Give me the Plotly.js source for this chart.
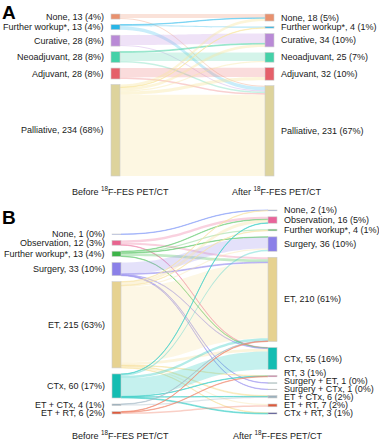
<!DOCTYPE html>
<html><head><meta charset="utf-8">
<script src="https://cdn.plot.ly/plotly-3.0.1.min.js"></script>
<style>html,body{margin:0;padding:0;background:#fff}#chart{width:379px;height:440px}</style>
</head><body><div id="chart"></div>
<script>
// ---------- Panel A data ----------
const aLeftLabels  = ["None", "Further workup*", "Curative", "Neoadjuvant", "Adjuvant", "Palliative"];
const aLeftValues  = [13, 13, 28, 28, 28, 234];
const aLeftPct     = ["4%", "4%", "8%", "8%", "8%", "68%"];
const aRightLabels = ["None", "Further workup*", "Curative", "Neoadjuvant", "Adjuvant", "Palliative"];
const aRightValues = [18, 4, 34, 25, 32, 231];
const aRightPct    = ["5%", "1%", "10%", "7%", "10%", "67%"];
const aColors      = ["#e8916e", "#29b5e6", "#b98ad6", "#45d1a8", "#e5606a", "#ddd39c"];
const aLinkColors  = ["#f0a080", "#4cc4ee", "#c9a0e4", "#70dcb8", "#f08a8a", "#f8e6a0"];
// rows: before (left), columns: after (right)
const aFlows = [
  [10, 0, 0, 0, 0, 3],
  [1, 3, 0, 0, 0, 9],
  [0, 0, 25, 0, 0, 3],
  [0, 0, 2, 22, 0, 4],
  [0, 0, 0, 0, 24, 4],
  [7, 1, 7, 3, 8, 208]
];

// ---------- Panel B data ----------
const bLeftLabels  = ["None", "Observation", "Further workup*", "Surgery", "ET", "CTx", "ET + CTx", "ET + RT"];
const bLeftValues  = [1, 12, 13, 33, 215, 60, 4, 6];
const bLeftPct     = ["0%", "3%", "4%", "10%", "63%", "17%", "1%", "2%"];
const bLeftColors  = ["#6f8cf5", "#e8648f", "#3db449", "#8b80e8", "#e6d291", "#14bdb2", "#8fa8b8", "#dd5a3c"];
const bLinkColors  = ["#8aa0f8", "#f08cb0", "#6ccc76", "#a49cf0", "#f8e4a8", "#40d0c8", "#a8bcc8", "#f08870"];
const bRightLabels = ["None", "Observation", "Further workup*", "Surgery", "ET", "CTx", "RT",
                      "Surgery + ET", "Surgery + CTx", "ET + CTx", "ET + RT", "CTx + RT"];
const bRightValues = [2, 16, 4, 36, 210, 55, 3, 1, 1, 6, 7, 3];
const bRightPct    = ["1%", "5%", "1%", "10%", "61%", "16%", "1%", "0%", "0%", "2%", "2%", "1%"];
const bRightColors = ["#2a56ea", "#e8649a", "#3db449", "#8b80e8", "#e6d291", "#14bdb2", "#c0407a",
                      "#2e8b8b", "#666e6e", "#9ab0bc", "#dd5a3c", "#2a2a80"];
const bFlows = [
  [1, 0, 0, 0, 0, 0, 0, 0, 0, 0, 0, 0],
  [0, 6, 0, 0, 5, 1, 0, 0, 0, 0, 0, 0],
  [0, 1, 3, 1, 7, 1, 0, 0, 0, 0, 0, 0],
  [0, 0, 0, 28, 2, 1, 0, 1, 1, 0, 0, 0],
  [1, 8, 1, 3, 188, 7, 1, 0, 0, 2, 3, 1],
  [0, 1, 0, 4, 6, 45, 1, 0, 0, 1, 0, 2],
  [0, 0, 0, 0, 1, 0, 0, 0, 0, 3, 0, 0],
  [0, 0, 0, 0, 1, 0, 1, 0, 0, 0, 4, 0]
];

const colTitleBefore = "Before <sup>18</sup>F-FES PET/CT";
const colTitleAfter  = "After <sup>18</sup>F-FES PET/CT";

// ---------- helpers ----------
const W = 379, H = 440;
const FONT = "Liberation Sans, Arial, sans-serif";
function rgba(hex, a) {
  const n = parseInt(hex.slice(1), 16);
  return `rgba(${(n >> 16) & 255},${(n >> 8) & 255},${n & 255},${a})`;
}
const sum = arr => arr.reduce((s, v) => s + v, 0);
// keep label centres at least `gap` px apart, pushing upward from the bottom
function spreadLabels(centres, gap) {
  const out = centres.slice();
  for (let i = out.length - 2; i >= 0; i--) {
    if (out[i] > out[i + 1] - gap) out[i] = out[i + 1] - gap;
  }
  return out;
}

const annotations = [];
function buildPanel(p) {
  const nL = p.leftValues.length, nR = p.rightValues.length;
  const dw = p.x1 - p.x0, dh = p.bottom - p.top;
  const ky = Math.min((dh - (nL - 1) * p.pad) / sum(p.leftValues),
                      (dh - (nR - 1) * p.pad) / sum(p.rightValues));
  function centers(vals) {
    let y = dh - (sum(vals) * ky + (vals.length - 1) * p.pad);
    return vals.map(v => { const c = y + v * ky / 2; y += v * ky + p.pad; return c; });
  }
  const cL = centers(p.leftValues), cR = centers(p.rightValues);
  const xs = [], ys = [];
  cL.forEach(c => { xs.push((p.thick / 2) / dw); ys.push(Math.max(c / dh, 0.0001)); });
  cR.forEach(c => { xs.push(1 - (p.thick / 2) / dw); ys.push(Math.max(c / dh, 0.0001)); });

  const src = [], tgt = [], val = [], lcol = [];
  p.flows.forEach((row, i) => row.forEach((v, j) => {
    if (v > 0) {
      src.push(i); tgt.push(nL + j); val.push(v);
      lcol.push(rgba(p.linkColors[i], v <= 2 ? 0.55 : (v <= 8 ? 0.4 : 0.3)));
    }
  }));
  const nodeColors = p.leftColors.concat(p.rightColors);

  const lyL = spreadLabels(cL, 8), lyR = spreadLabels(cR, 8);
  const labFont = { family: FONT, size: 9, color: "#1a1a1a" };
  p.leftLabels.forEach((l, i) => annotations.push({
    xref: "paper", yref: "paper", x: (p.x0 - 5) / W, y: 1 - (p.top + lyL[i]) / H,
    xanchor: "right", yanchor: "middle", showarrow: false,
    text: `${l}, ${p.leftValues[i]} (${p.leftPct[i]})`, font: labFont
  }));
  p.rightLabels.forEach((l, i) => annotations.push({
    xref: "paper", yref: "paper", x: (p.x1 + 5) / W, y: 1 - (p.top + lyR[i]) / H,
    xanchor: "left", yanchor: "middle", showarrow: false,
    text: `${l}, ${p.rightValues[i]} (${p.rightPct[i]})`, font: labFont
  }));
  annotations.push({
    xref: "paper", yref: "paper", x: p.beforeX / W, y: 1 - p.colTitleY / H,
    xanchor: "center", yanchor: "middle", showarrow: false, text: colTitleBefore, font: labFont
  });
  annotations.push({
    xref: "paper", yref: "paper", x: p.afterX / W, y: 1 - p.colTitleY / H,
    xanchor: "center", yanchor: "middle", showarrow: false, text: colTitleAfter, font: labFont
  });
  annotations.push({
    xref: "paper", yref: "paper", x: p.letterX / W, y: 1 - p.letterY / H,
    xanchor: "left", yanchor: "top", showarrow: false, text: `<b>${p.letter}</b>`,
    font: { family: FONT, size: 19, color: "#000" }
  });

  return {
    type: "sankey",
    arrangement: "fixed",
    hoverinfo: "none",
    domain: { x: [p.x0 / W, p.x1 / W], y: [1 - p.bottom / H, 1 - p.top / H] },
    node: {
      label: nodeColors.map(() => ""),
      color: nodeColors,
      x: xs, y: ys,
      pad: p.pad,
      thickness: p.thick,
      line: { color: "rgba(205,205,205,1)", width: 0.6 },
      hoverinfo: "none"
    },
    link: {
      source: src, target: tgt, value: val, color: lcol,
      line: { width: 0 },
      hoverinfo: "none"
    }
  };
}

const traceA = buildPanel({
  leftLabels: aLeftLabels, leftValues: aLeftValues, leftPct: aLeftPct, leftColors: aColors,
  rightLabels: aRightLabels, rightValues: aRightValues, rightPct: aRightPct, rightColors: aColors,
  linkColors: aLinkColors, flows: aFlows,
  x0: 111, x1: 274, top: 14, bottom: 176, pad: 5.5, thick: 9,
  beforeX: 120, afterX: 277, colTitleY: 191, letter: "A", letterX: 0, letterY: 0
});
const traceB = buildPanel({
  leftLabels: bLeftLabels, leftValues: bLeftValues, leftPct: bLeftPct, leftColors: bLeftColors,
  rightLabels: bRightLabels, rightValues: bRightValues, rightPct: bRightPct, rightColors: bRightColors,
  linkColors: bLinkColors, flows: bFlows,
  x0: 112, x1: 277, top: 210, bottom: 414, pad: 6, thick: 9,
  beforeX: 120, afterX: 278, colTitleY: 435, letter: "B", letterX: 0, letterY: 205
});

Plotly.newPlot("chart", [traceA, traceB], {
  width: W, height: H,
  margin: { l: 0, r: 0, t: 0, b: 0 },
  paper_bgcolor: "#fff", plot_bgcolor: "#fff",
  font: { family: FONT, size: 9, color: "#1a1a1a" },
  showlegend: false,
  annotations: annotations
}, { displayModeBar: false, staticPlot: true });
</script>
</body></html>
